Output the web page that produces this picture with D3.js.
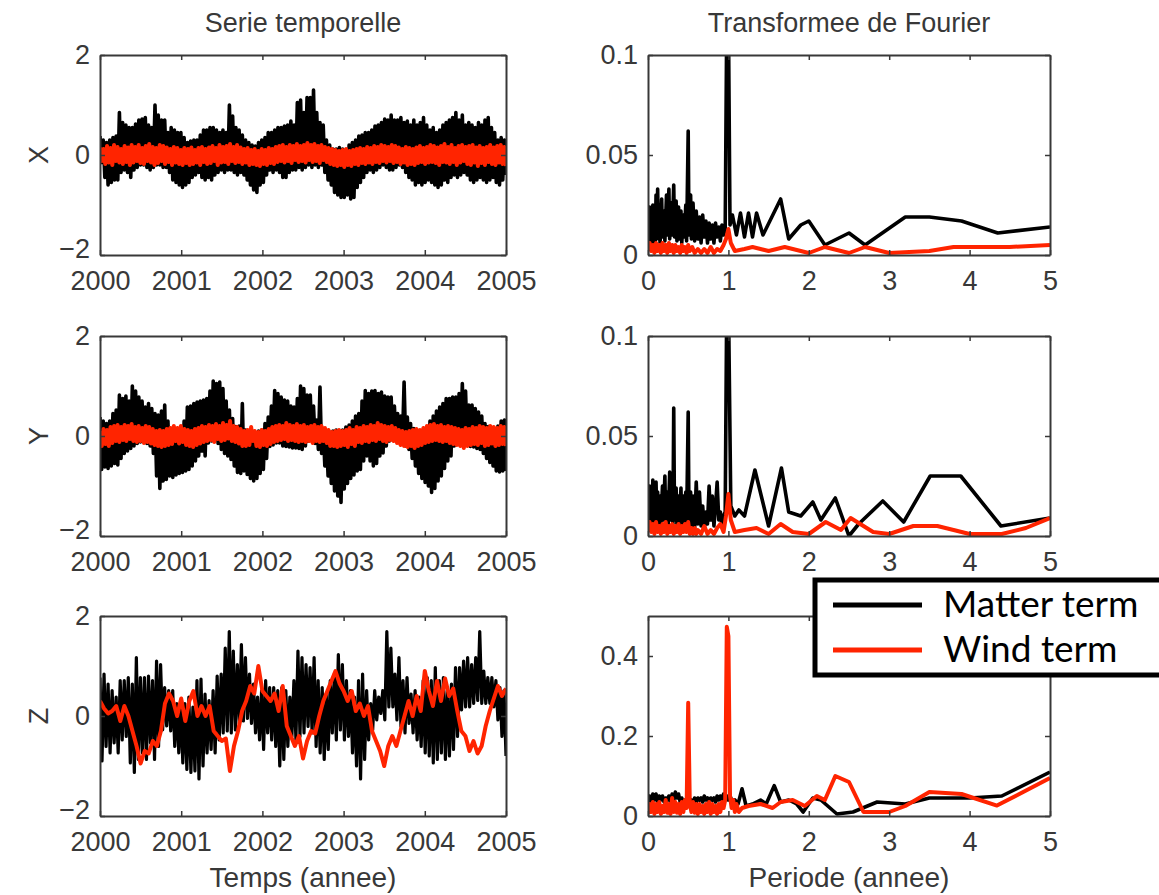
<!DOCTYPE html>
<html>
<head>
<meta charset="utf-8">
<script src="https://cdn.jsdelivr.net/npm/d3@7"></script>
<style>
  body { margin: 0; background: #fff; }
  svg { display: block; }
  .tick text, .lbl { font-family: "Liberation Sans", Arial, sans-serif; fill: #383838; }
  .legend text { font-family: Lato, "Open Sans", sans-serif; fill: #000; }
</style>
</head>
<body>
<script>
var xMatter = [0.38,-0.15, 0.3,-0.45, 0.25,-0.6, 0.3,-0.55, 0.35,-0.5, 0.38,-0.5, 0.85,-0.35, 0.65,-0.3, 0.6,-0.35, 0.55,-0.45,
  0.55,-0.3, 0.62,-0.25, 0.7,-0.2, 0.72,-0.2, 0.75,-0.25, 0.6,-0.3, 0.55,-0.25, 1.0,-0.2, 0.8,-0.2, 0.7,-0.25,
  0.7,-0.25, 0.45,-0.35, 0.55,-0.5, 0.5,-0.55, 0.45,-0.6, 0.45,-0.65, 0.35,-0.6, 0.25,-0.55, 0.28,-0.45, 0.3,-0.4,
  0.3,-0.35, 0.4,-0.45, 0.5,-0.5, 0.5,-0.45, 0.55,-0.5, 0.55,-0.4, 0.5,-0.35, 0.45,-0.3, 0.5,-0.35, 0.45,-0.3,
  1.0,-0.3, 0.78,-0.35, 0.55,-0.4, 0.5,-0.35, 0.4,-0.4, 0.3,-0.5, 0.25,-0.6, 0.2,-0.7, 0.18,-0.75, 0.25,-0.6,
  0.3,-0.55, 0.35,-0.4, 0.45,-0.3, 0.45,-0.35, 0.5,-0.3, 0.55,-0.35, 0.55,-0.45, 0.58,-0.45, 0.6,-0.35, 0.68,-0.3,
  0.6,-0.3, 1.05,-0.25, 1.1,-0.3, 0.85,-0.25, 1.15,-0.2, 1.15,-0.25, 1.3,-0.2, 0.85,-0.25, 0.65,-0.2, 0.6,-0.35,
  0.3,-0.5, 0.2,-0.6, 0.12,-0.75, 0.12,-0.8, 0.15,-0.85, 0.12,-0.85, 0.1,-0.8, 0.2,-0.88, 0.25,-0.85, 0.3,-0.65,
  0.38,-0.55, 0.4,-0.45, 0.45,-0.35, 0.45,-0.3, 0.5,-0.35, 0.58,-0.3, 0.6,-0.25, 0.65,-0.2, 0.72,-0.25, 0.7,-0.3,
  0.8,-0.3, 0.7,-0.25, 0.7,-0.2, 0.75,-0.25, 0.65,-0.35, 0.68,-0.45, 0.6,-0.5, 0.7,-0.6, 0.6,-0.55, 0.65,-0.6,
  0.75,-0.55, 0.6,-0.5, 0.5,-0.55, 0.55,-0.6, 0.45,-0.65, 0.5,-0.6, 0.6,-0.5, 0.65,-0.55, 0.7,-0.45, 0.75,-0.4,
  0.85,-0.45, 0.7,-0.4, 0.8,-0.35, 0.6,-0.4, 0.65,-0.5, 0.6,-0.55, 0.55,-0.5, 0.65,-0.45, 0.6,-0.5, 0.7,-0.55,
  0.75,-0.5, 0.55,-0.45, 0.45,-0.55, 0.3,-0.6, 0.35,-0.5, 0.3,-0.4];
var xWind = [0.15,-0.12, 0.12,-0.18, 0.18,-0.15, 0.14,-0.2, 0.2,-0.12, 0.16,-0.15, 0.12,-0.18, 0.18,-0.14, 0.15,-0.2, 0.2,-0.15,
  0.16,-0.12, 0.2,-0.16, 0.14,-0.18, 0.18,-0.12, 0.22,-0.15, 0.16,-0.2, 0.14,-0.16, 0.2,-0.12, 0.18,-0.18, 0.15,-0.14,
  0.12,-0.2, 0.16,-0.15, 0.14,-0.18, 0.1,-0.2, 0.14,-0.16, 0.12,-0.2, 0.15,-0.18, 0.1,-0.15, 0.14,-0.2, 0.16,-0.14,
  0.12,-0.18, 0.15,-0.16, 0.18,-0.12, 0.14,-0.2, 0.2,-0.15, 0.16,-0.14, 0.18,-0.18, 0.22,-0.12, 0.16,-0.16, 0.2,-0.14,
  0.15,-0.18, 0.12,-0.15, 0.14,-0.2, 0.1,-0.18, 0.12,-0.2, 0.08,-0.22, 0.12,-0.18, 0.1,-0.2, 0.14,-0.16, 0.12,-0.18,
  0.16,-0.14, 0.18,-0.12, 0.2,-0.15, 0.16,-0.12, 0.2,-0.16, 0.18,-0.1, 0.22,-0.14, 0.18,-0.12, 0.2,-0.15, 0.24,-0.1,
  0.2,-0.14, 0.22,-0.12, 0.18,-0.16, 0.2,-0.1, 0.16,-0.14, 0.14,-0.18, 0.12,-0.2, 0.1,-0.22, 0.08,-0.2, 0.1,-0.24,
  0.12,-0.2, 0.08,-0.22, 0.1,-0.18, 0.12,-0.2, 0.14,-0.16, 0.12,-0.18, 0.16,-0.15, 0.14,-0.18, 0.18,-0.14, 0.16,-0.16,
  0.2,-0.12, 0.18,-0.15, 0.16,-0.12, 0.2,-0.16, 0.18,-0.14, 0.15,-0.18, 0.12,-0.15, 0.16,-0.2, 0.14,-0.18, 0.12,-0.2,
  0.15,-0.16, 0.18,-0.14, 0.14,-0.18, 0.16,-0.15, 0.2,-0.14, 0.18,-0.16, 0.15,-0.2, 0.18,-0.14, 0.22,-0.15, 0.16,-0.18,
  0.2,-0.14, 0.14,-0.2, 0.18,-0.15, 0.2,-0.12, 0.16,-0.18, 0.18,-0.2, 0.2,-0.15, 0.15,-0.22, 0.18,-0.16, 0.14,-0.2,
  0.16,-0.14, 0.2,-0.18, 0.15,-0.2, 0.18,-0.15, 0.2,-0.18, 0.16,-0.22];

var yMatter = [0.38,-0.67, 0.3,-0.62, 0.25,-0.65, 0.3,-0.6, 0.45,-0.55, 0.52,-0.58, 0.82,-0.45, 0.75,-0.35, 0.8,-0.3, 0.7,-0.25,
  1.0,-0.2, 0.9,-0.15, 0.78,-0.12, 0.7,-0.1, 0.58,-0.15, 0.65,-0.2, 0.55,-0.35, 0.45,-0.8, 0.42,-1.05, 0.5,-0.9,
  0.62,-0.87, 0.3,-0.8, 0.15,-0.83, 0.12,-0.78, 0.08,-0.75, 0.05,-0.73, 0.3,-0.7, 0.58,-0.67, 0.6,-0.6, 0.65,-0.5,
  0.68,-0.4, 0.7,-0.3, 0.72,-0.4, 0.75,-0.14, 0.9,-0.1, 1.1,-0.08, 1.05,-0.15, 1.08,-0.27, 0.95,-0.35, 0.7,-0.4,
  0.52,-0.47, 0.35,-0.6, 0.19,-0.73, 0.2,-0.75, 0.65,-0.7, 0.12,-0.77, 0.05,-0.85, 0.0,-0.9, 0.05,-0.85, 0.1,-0.75,
  0.12,-0.67, 0.25,-0.45, 0.38,-0.21, 0.6,-0.18, 0.91,-0.14, 0.85,-0.14, 0.78,-0.2, 0.72,-0.21, 0.7,-0.22, 0.6,-0.24,
  0.58,-0.24, 0.75,-0.25, 1.0,-0.27, 0.95,-0.2, 0.82,-0.1, 0.82,-0.08, 0.6,-0.15, 0.32,-0.27, 0.98,-0.35, 0.15,-0.6,
  0.05,-0.8, 0.08,-0.95, 0.1,-1.1, 0.12,-1.2, 0.1,-1.33, 0.12,-1.06, 0.18,-0.95, 0.22,-0.85, 0.3,-0.78, 0.4,-0.7,
  0.45,-0.67, 0.7,-0.5, 0.91,-0.4, 0.85,-0.5, 0.9,-0.6, 0.91,-0.55, 0.85,-0.4, 0.88,-0.34, 0.8,-0.2, 0.78,-0.1,
  0.78,-0.08, 0.6,-0.05, 0.45,-0.05, 0.4,-0.1, 1.08,-0.2, 0.38,-0.27, 0.25,-0.45, 0.15,-0.6, 0.1,-0.75, 0.08,-0.85,
  0.05,-0.93, 0.15,-1.0, 0.3,-1.13, 0.4,-1.05, 0.5,-0.9, 0.58,-0.8, 0.65,-0.65, 0.75,-0.5, 0.75,-0.4, 0.78,-0.2,
  0.78,-0.14, 0.85,-0.12, 1.05,-0.14, 0.9,-0.18, 0.62,-0.21, 0.62,-0.22, 0.55,-0.25, 0.48,-0.27, 0.4,-0.35, 0.25,-0.45,
  0.19,-0.53, 0.15,-0.6, 0.12,-0.7, 0.2,-0.72, 0.3,-0.7, 0.32,-0.7];
var yWind = [0.1,-0.2, 0.14,-0.16, 0.12,-0.2, 0.18,-0.14, 0.2,-0.1, 0.22,-0.12, 0.18,-0.08, 0.22,-0.1, 0.2,-0.06, 0.24,-0.1,
  0.18,-0.12, 0.2,-0.1, 0.16,-0.14, 0.2,-0.12, 0.18,-0.15, 0.14,-0.18, 0.1,-0.2, 0.12,-0.22, 0.1,-0.2, 0.14,-0.18,
  0.16,-0.16, 0.2,-0.1, 0.16,-0.15, 0.2,-0.12, 0.14,-0.18, 0.12,-0.2, 0.1,-0.22, 0.14,-0.18, 0.16,-0.15, 0.2,-0.12,
  0.18,-0.1, 0.22,-0.08, 0.2,-0.12, 0.24,-0.06, 0.2,-0.1, 0.26,-0.08, 0.22,-0.05, 0.3,-0.1, 0.2,-0.12, 0.18,-0.15,
  0.14,-0.2, 0.1,-0.2, 0.12,-0.18, 0.18,-0.1, 0.1,-0.2, 0.08,-0.22, 0.12,-0.18, 0.1,-0.2, 0.14,-0.16, 0.18,-0.12,
  0.2,-0.1, 0.22,-0.08, 0.2,-0.06, 0.26,-0.1, 0.22,-0.08, 0.2,-0.1, 0.24,-0.12, 0.2,-0.1, 0.22,-0.12, 0.18,-0.1,
  0.2,-0.14, 0.22,-0.1, 0.18,-0.12, 0.2,-0.1, 0.16,-0.14, 0.12,-0.2, 0.08,-0.2, 0.1,-0.22, 0.12,-0.2, 0.1,-0.18,
  0.12,-0.22, 0.16,-0.16, 0.12,-0.2, 0.18,-0.12, 0.16,-0.14, 0.2,-0.1, 0.18,-0.12, 0.22,-0.08, 0.2,-0.1, 0.26,-0.06,
  0.22,-0.1, 0.2,-0.12, 0.18,-0.08, 0.2,-0.1, 0.16,-0.14, 0.12,-0.18, 0.1,-0.2, 0.08,-0.22, 0.1,-0.2, 0.12,-0.24,
  0.14,-0.2, 0.12,-0.18, 0.16,-0.14, 0.2,-0.12, 0.22,-0.1, 0.24,-0.08, 0.2,-0.1, 0.22,-0.12, 0.18,-0.1, 0.2,-0.14,
  0.18,-0.16, 0.16,-0.18, 0.14,-0.2, 0.12,-0.24, 0.16,-0.2, 0.14,-0.18, 0.18,-0.16, 0.16,-0.18, 0.2,-0.14, 0.18,-0.2,
  0.16,-0.18, 0.2,-0.15, 0.18,-0.2, 0.16,-0.18, 0.2,-0.16, 0.18,-0.2];

// Z: pairs (high, low) every 0.05 yr for the matter term, single values for the wind term
var zMatter = [0.77,-0.9, 0.84,-0.61, 0.64,-0.74, 0.51,-0.54, 0.38,-0.74, 0.71,-0.48, 0.71,-0.41, 0.77,-0.94, 0.64,-1.13, 1.17,-0.87,
  0.77,-0.74, 0.77,-0.87, 0.8,-0.54, 0.71,-0.87, 1.1,-0.61, 1.03,-0.28, 0.57,-0.2, 0.51,-0.3, 0.51,-0.61, 0.25,-0.74,
  0.18,-0.94, 0.25,-1.07, 0.38,-1.13, 0.18,-1.1, 0.71,-1.26, 0.74,-1.0, 0.44,-0.74, 0.31,-0.67, 0.51,-0.74, 0.8,-0.48,
  0.84,-0.34, 1.36,-0.3, 1.69,-0.34, 1.3,-0.28, 1.03,-0.15, 1.43,-0.1, 1.17,-0.05, 0.84,-0.15, 0.64,-0.34, 0.38,-0.48,
  0.51,-0.67, 0.71,-0.34, 0.57,-0.48, 0.57,-0.61, 0.51,-1.0, 0.57,-0.87, 0.51,-0.61, 0.38,-0.41, 0.71,-0.48, 1.3,-0.41,
  1.17,-0.34, 1.03,-0.21, 0.97,-0.34, 1.17,-0.61, 0.71,-0.74, 0.57,-0.87, 0.44,-0.67, 0.71,-0.34, 0.84,-0.48, 1.23,-0.28,
  1.03,-0.48, 0.71,-0.41, 0.51,-0.74, 0.38,-1.0, 0.71,-1.26, 0.84,-0.87, 0.51,-0.48, 0.25,-0.28, 0.51,-0.08, 0.38,0.05,
  0.51,-0.08, 1.69,0.18, 1.36,0.18, 0.84,-0.08, 1.17,-0.21, 0.71,-0.34, 0.77,-0.15, 0.44,-0.34, 0.51,-0.48, 0.38,-0.61,
  0.71,-0.74, 0.77,-0.8, 0.71,-0.94, 0.97,-0.87, 0.71,-0.74, 0.77,-0.87, 0.51,-0.8, 0.64,-0.67, 0.97,-0.41, 0.97,0.12,
  1.1,0.18, 1.17,0.18, 1.03,0.25, 1.17,0.31, 1.69,0.25, 0.9,0.25, 0.77,0.25, 0.77,0.18, 0.71,-0.08, 0.57,-0.41,
  0.51,-0.8];
var zWind = [0.3, 0.15, 0.05, 0.1, 0.2, -0.1, 0.2, 0.0, -0.3, -0.6,
  -0.95, -0.7, -0.75, -0.5, -0.6, -0.3, 0.25, 0.45, 0.3, 0.0,
  0.35, -0.1, 0.3, 0.5, 0.0, 0.2, 0.0, 0.2, -0.3, -0.4,
  -0.5, -0.45, -1.1, -0.6, -0.3, 0.1, 0.3, 0.6, 0.45, 1.0,
  0.5, 0.4, 0.3, 0.45, 0.1, 0.6, -0.2, -0.4, -0.6, -0.4,
  -0.85, -0.5, -0.3, -0.35, 0.0, 0.3, 0.5, 0.7, 0.9, 0.65,
  0.5, 0.3, 0.5, 0.1, 0.25, 0.0, 0.2, -0.3, -0.5, -0.7,
  -1.0, -0.6, -0.4, -0.6, -0.3, 0.0, 0.3, 0.0, 0.4, 0.1,
  0.9, 0.5, 0.2, 0.7, 0.3, 0.75, 0.4, 0.55, 0.1, -0.3,
  -0.4, -0.7, -0.5, -0.75, -0.6, -0.2, 0.1, 0.35, 0.6, 0.4,
  0.55];

// spectra: [period (yr), amplitude]
var fxMatter = [[0.00,0.020],[0.01,0.004],[0.02,0.024],[0.03,0.006],[0.04,0.018],[0.05,0.005],[0.06,0.025],[0.07,0.008],[0.08,0.022],[0.09,0.006],
  [0.10,0.030],[0.11,0.010],[0.12,0.033],[0.13,0.008],[0.14,0.025],[0.15,0.006],[0.17,0.028],[0.18,0.009],[0.20,0.022],[0.21,0.007],
  [0.23,0.030],[0.24,0.010],[0.26,0.033],[0.27,0.008],[0.29,0.026],[0.30,0.010],[0.32,0.035],[0.33,0.009],[0.35,0.027],[0.36,0.007],
  [0.38,0.024],[0.39,0.008],[0.41,0.022],[0.42,0.006],[0.44,0.020],[0.45,0.009],[0.47,0.025],[0.48,0.007],[0.50,0.062],[0.51,0.010],
  [0.53,0.030],[0.54,0.008],[0.56,0.026],[0.58,0.007],[0.60,0.022],[0.62,0.008],[0.64,0.019],[0.66,0.006],[0.68,0.020],[0.70,0.009],
  [0.72,0.017],[0.74,0.006],[0.76,0.016],[0.78,0.008],[0.80,0.015],[0.82,0.006],[0.84,0.016],[0.86,0.009],[0.88,0.014],[0.90,0.007],
  [0.92,0.015],[0.94,0.010],[0.96,0.013],[0.98,0.12],[1.00,0.12],[1.02,0.015],[1.05,0.020],[1.10,0.010],[1.15,0.021],[1.20,0.009],
  [1.25,0.021],[1.30,0.009],[1.35,0.021],[1.43,0.010],[1.65,0.028],[1.75,0.008],[1.90,0.015],[2.00,0.017],[2.20,0.005],[2.50,0.011],
  [2.70,0.005],[3.20,0.019],[3.50,0.019],[3.90,0.017],[4.35,0.011],[5.00,0.014]];
var fxWind = [[0.00,0.002],[0.02,0.006],[0.04,0.002],[0.06,0.005],[0.08,0.001],[0.10,0.006],[0.12,0.002],[0.14,0.005],[0.16,0.001],[0.18,0.006],
  [0.20,0.002],[0.22,0.005],[0.24,0.001],[0.26,0.006],[0.28,0.002],[0.30,0.005],[0.32,0.001],[0.34,0.005],[0.36,0.002],[0.38,0.004],
  [0.40,0.001],[0.42,0.005],[0.44,0.002],[0.46,0.004],[0.48,0.001],[0.50,0.005],[0.52,0.002],[0.55,0.004],[0.58,0.001],[0.62,0.003],
  [0.66,0.001],[0.70,0.003],[0.74,0.001],[0.78,0.004],[0.82,0.001],[0.86,0.003],[0.90,0.002],[0.94,0.005],[0.97,0.008],[1.00,0.013],
  [1.03,0.006],[1.08,0.002],[1.20,0.003],[1.30,0.004],[1.50,0.002],[1.70,0.004],[2.00,0.001],[2.20,0.004],[2.50,0.001],[2.70,0.004],
  [3.00,0.001],[3.50,0.002],[3.80,0.004],[4.50,0.004],[5.00,0.005]];

var fyMatter = [[0.00,0.02],[0.01,0.004],[0.02,0.025],[0.03,0.006],[0.04,0.022],[0.05,0.004],[0.06,0.028],[0.07,0.008],[0.08,0.024],[0.09,0.005],
  [0.10,0.027],[0.11,0.007],[0.12,0.022],[0.13,0.005],[0.15,0.02],[0.16,0.006],[0.18,0.025],[0.19,0.008],[0.21,0.03],[0.22,0.006],
  [0.24,0.022],[0.25,0.005],[0.27,0.032],[0.28,0.008],[0.30,0.02],[0.31,0.006],[0.32,0.064],[0.33,0.008],[0.35,0.024],[0.36,0.005],
  [0.38,0.02],[0.39,0.007],[0.41,0.024],[0.42,0.005],[0.44,0.02],[0.45,0.007],[0.47,0.022],[0.48,0.006],[0.50,0.062],[0.51,0.008],
  [0.53,0.022],[0.54,0.005],[0.56,0.02],[0.58,0.004],[0.60,0.027],[0.62,0.006],[0.64,0.022],[0.66,0.005],[0.68,0.015],[0.70,0.004],
  [0.72,0.012],[0.74,0.006],[0.76,0.025],[0.78,0.008],[0.80,0.02],[0.82,0.005],[0.84,0.015],[0.86,0.027],[0.88,0.008],[0.90,0.012],
  [0.92,0.006],[0.94,0.01],[0.96,0.012],[0.98,0.12],[1.00,0.12],[1.03,0.015],[1.08,0.01],[1.13,0.013],[1.20,0.01],[1.33,0.033],
  [1.50,0.005],[1.66,0.034],[1.75,0.012],[1.90,0.01],[2.05,0.017],[2.15,0.008],[2.33,0.019],[2.50,0.0],[2.62,0.006],[2.92,0.0175],
  [3.18,0.007],[3.51,0.03],[3.89,0.03],[4.39,0.005],[5.00,0.009]];
var fyWind = [[0.00,0.002],[0.02,0.007],[0.04,0.002],[0.06,0.006],[0.08,0.001],[0.10,0.007],[0.12,0.002],[0.14,0.005],[0.16,0.001],[0.18,0.006],
  [0.20,0.002],[0.22,0.007],[0.24,0.001],[0.26,0.005],[0.28,0.002],[0.30,0.006],[0.32,0.001],[0.34,0.005],[0.36,0.002],[0.38,0.006],
  [0.40,0.001],[0.42,0.005],[0.44,0.002],[0.46,0.006],[0.48,0.002],[0.50,0.007],[0.52,0.001],[0.54,0.004],[0.56,0.001],[0.58,0.004],
  [0.60,0.001],[0.62,0.003],[0.66,0.001],[0.70,0.005],[0.74,0.001],[0.78,0.003],[0.82,0.001],[0.86,0.004],[0.90,0.006],[0.94,0.002],
  [0.97,0.01],[1.00,0.021],[1.03,0.008],[1.08,0.002],[1.20,0.003],[1.35,0.004],[1.50,0.001],[1.65,0.006],[1.80,0.002],[2.00,0.001],
  [2.21,0.007],[2.40,0.003],[2.52,0.009],[2.80,0.002],[3.00,0.001],[3.30,0.005],[3.60,0.005],[4.00,0.001],[4.40,0.001],[4.70,0.004],
  [5.00,0.009]];

var fzMatter = [[0.00,0.03],[0.02,0.05],[0.04,0.035],[0.06,0.055],[0.08,0.04],[0.10,0.055],[0.12,0.035],[0.14,0.05],[0.16,0.04],[0.18,0.05],
  [0.20,0.035],[0.22,0.045],[0.24,0.04],[0.26,0.05],[0.28,0.035],[0.30,0.055],[0.32,0.04],[0.34,0.06],[0.36,0.045],[0.38,0.055],
  [0.40,0.035],[0.42,0.045],[0.44,0.03],[0.46,0.04],[0.48,0.03],[0.50,0.045],[0.52,0.035],[0.54,0.04],[0.56,0.03],[0.58,0.045],
  [0.60,0.035],[0.62,0.045],[0.64,0.04],[0.66,0.045],[0.68,0.035],[0.70,0.05],[0.72,0.04],[0.74,0.045],[0.76,0.035],[0.78,0.045],
  [0.80,0.04],[0.82,0.045],[0.84,0.035],[0.86,0.05],[0.88,0.04],[0.90,0.05],[0.92,0.04],[0.94,0.055],[0.96,0.045],[0.98,0.05],
  [1.00,0.04],[1.02,0.05],[1.05,0.035],[1.08,0.04],[1.12,0.03],[1.17,0.068],[1.22,0.025],[1.30,0.03],[1.40,0.04],[1.47,0.03],
  [1.57,0.076],[1.65,0.035],[1.75,0.04],[1.85,0.03],[1.93,0.01],[2.05,0.045],[2.15,0.04],[2.35,0.005],[2.55,0.01],[2.85,0.035],
  [3.20,0.03],[3.50,0.045],[4.00,0.045],[4.40,0.05],[5.00,0.11]];
var fzWind = [[0.00,0.005],[0.02,0.03],[0.04,0.01],[0.06,0.035],[0.08,0.005],[0.10,0.03],[0.12,0.01],[0.14,0.035],[0.16,0.005],[0.18,0.025],
  [0.20,0.01],[0.22,0.04],[0.24,0.008],[0.26,0.03],[0.28,0.005],[0.30,0.045],[0.32,0.01],[0.34,0.035],[0.36,0.008],[0.38,0.03],
  [0.40,0.005],[0.42,0.035],[0.44,0.01],[0.46,0.04],[0.48,0.02],[0.50,0.283],[0.52,0.03],[0.54,0.01],[0.56,0.035],[0.58,0.008],
  [0.60,0.03],[0.62,0.005],[0.64,0.03],[0.66,0.01],[0.68,0.025],[0.70,0.005],[0.72,0.03],[0.74,0.01],[0.76,0.035],[0.78,0.005],
  [0.80,0.03],[0.82,0.01],[0.84,0.025],[0.86,0.005],[0.88,0.03],[0.90,0.01],[0.92,0.035],[0.94,0.02],[0.96,0.04],[0.98,0.473],
  [1.00,0.45],[1.02,0.05],[1.04,0.02],[1.06,0.04],[1.08,0.01],[1.10,0.03],[1.13,0.01],[1.17,0.02],[1.25,0.025],[1.40,0.03],
  [1.55,0.02],[1.65,0.035],[1.80,0.04],[1.95,0.025],[2.10,0.05],[2.20,0.04],[2.33,0.1],[2.50,0.085],[2.68,0.01],[3.00,0.01],
  [3.20,0.025],[3.50,0.06],[3.90,0.055],[4.34,0.026],[5.00,0.095]];

var rowNames = ["X", "Y", "Z"];
var yearTicks = [2000, 2001, 2002, 2003, 2004, 2005];
var periodTicks = [0, 1, 2, 3, 4, 5];
var tsTicks = [-2, 0, 2];
var specTicks = [[0, 0.05, 0.1], [0, 0.05, 0.1], [0, 0.2, 0.4]];
var specMax = [0.1, 0.1, 0.5];
var seriesNames = ["Matter term", "Wind term"];

var BLACK = "#000", RED = "#ff2400", INK = "#383838";
var W = 1159, H = 895;
var leftX = [100, 506], rightX = [648, 1050];
var rowTop = [55, 336, 616], plotH = 200;

var svg = d3.select("body").append("svg").attr("width", W).attr("height", H);

function toTime(vals) {
  var n = vals.length;
  return vals.map(function(v, i) { return [2000 + 5 * i / (n - 1), v]; });
}

var timeData = [[xMatter, xWind], [yMatter, yWind], [zMatter, zWind]];
var specData = [[fxMatter, fxWind], [fyMatter, fyWind], [fzMatter, fzWind]];
var timeWidths = [[3.6, 4], [3.6, 4], [3.2, 4]];

function fmt(d) { return d < 0 ? "\u2212" + Math.abs(d) : String(d); }

function panel(id, xr, top, xDomain, yDomain, xt, yt, series, widths) {
  var x = d3.scaleLinear().domain(xDomain).range(xr);
  var y = d3.scaleLinear().domain(yDomain).range([top + plotH, top]);
  var g = svg.append("g");

  svg.append("clipPath").attr("id", id).append("rect")
    .attr("x", xr[0]).attr("y", top).attr("width", xr[1] - xr[0]).attr("height", plotH);

  var line = d3.line().x(function(d) { return x(d[0]); }).y(function(d) { return y(d[1]); });
  series.forEach(function(s, i) {
    g.append("path").datum(s)
      .attr("clip-path", "url(#" + id + ")")
      .attr("fill", "none")
      .attr("stroke", i === 0 ? BLACK : RED)
      .attr("stroke-width", widths[i])
      .attr("stroke-linejoin", "round")
      .attr("d", line);
  });

  // box with inward ticks, Matlab style
  var axes = [
    [d3.axisBottom(x).tickValues(xt).tickFormat(fmt), "translate(0," + (top + plotH) + ")"],
    [d3.axisTop(x).tickValues(xt).tickFormat(""), "translate(0," + top + ")"],
    [d3.axisLeft(y).tickValues(yt).tickFormat(fmt), "translate(" + xr[0] + ",0)"],
    [d3.axisRight(y).tickValues(yt).tickFormat(""), "translate(" + xr[1] + ",0)"]
  ];
  axes.forEach(function(a, k) {
    var ax = g.append("g").attr("transform", a[1])
      .call(a[0].tickSizeInner(-5).tickSizeOuter(0).tickPadding(k === 0 ? 16 : 10));
    ax.select(".domain").attr("stroke", INK).attr("stroke-width", 2);
    ax.selectAll(".tick line").attr("stroke", INK).attr("stroke-width", 1.5);
    ax.selectAll(".tick text").attr("font-size", 27).attr("fill", INK);
    if (k === 2) {
      // lowest label sits a bit higher so it clears the year labels
      ax.selectAll(".tick text").filter(function(d) { return d === yDomain[0] && d < 0; })
        .attr("dy", "0.1em");
    }
  });
  return g;
}

for (var r = 0; r < 3; r++) {
  panel("cl" + r, leftX, rowTop[r], [2000, 2005], [-2, 2], yearTicks, tsTicks,
    timeData[r].map(toTime), timeWidths[r]);
  panel("cr" + r, rightX, rowTop[r], [0, 5], [0, specMax[r]], periodTicks, specTicks[r],
    specData[r], [3.6, 4]);

  svg.append("text").attr("class", "lbl")
    .attr("transform", "translate(48," + (rowTop[r] + plotH / 2) + ") rotate(-90)")
    .attr("text-anchor", "middle").attr("font-size", 27)
    .text(rowNames[r]);
}

svg.append("text").attr("class", "lbl").attr("x", (leftX[0] + leftX[1]) / 2).attr("y", 32)
  .attr("text-anchor", "middle").attr("font-size", 27).text("Serie temporelle");
svg.append("text").attr("class", "lbl").attr("x", (rightX[0] + rightX[1]) / 2).attr("y", 32)
  .attr("text-anchor", "middle").attr("font-size", 27).text("Transformee de Fourier");
svg.append("text").attr("class", "lbl").attr("x", (leftX[0] + leftX[1]) / 2).attr("y", 887)
  .attr("text-anchor", "middle").attr("font-size", 28).text("Temps (annee)");
svg.append("text").attr("class", "lbl").attr("x", (rightX[0] + rightX[1]) / 2).attr("y", 887)
  .attr("text-anchor", "middle").attr("font-size", 28).text("Periode (annee)");

// legend box, cut by the right edge of the picture
var lg = svg.append("g").attr("class", "legend");
lg.append("rect").attr("x", 815).attr("y", 580).attr("width", 360).attr("height", 95)
  .attr("fill", "#fff").attr("stroke", "#000").attr("stroke-width", 5);
seriesNames.forEach(function(name, i) {
  var yy = 605 + i * 45;
  lg.append("line").attr("x1", 833).attr("x2", 922).attr("y1", yy).attr("y2", yy)
    .attr("stroke", i === 0 ? BLACK : RED).attr("stroke-width", 5);
  lg.append("text").attr("x", 943).attr("y", yy + 12).attr("font-size", 37).text(name);
});
</script>
</body>
</html>
